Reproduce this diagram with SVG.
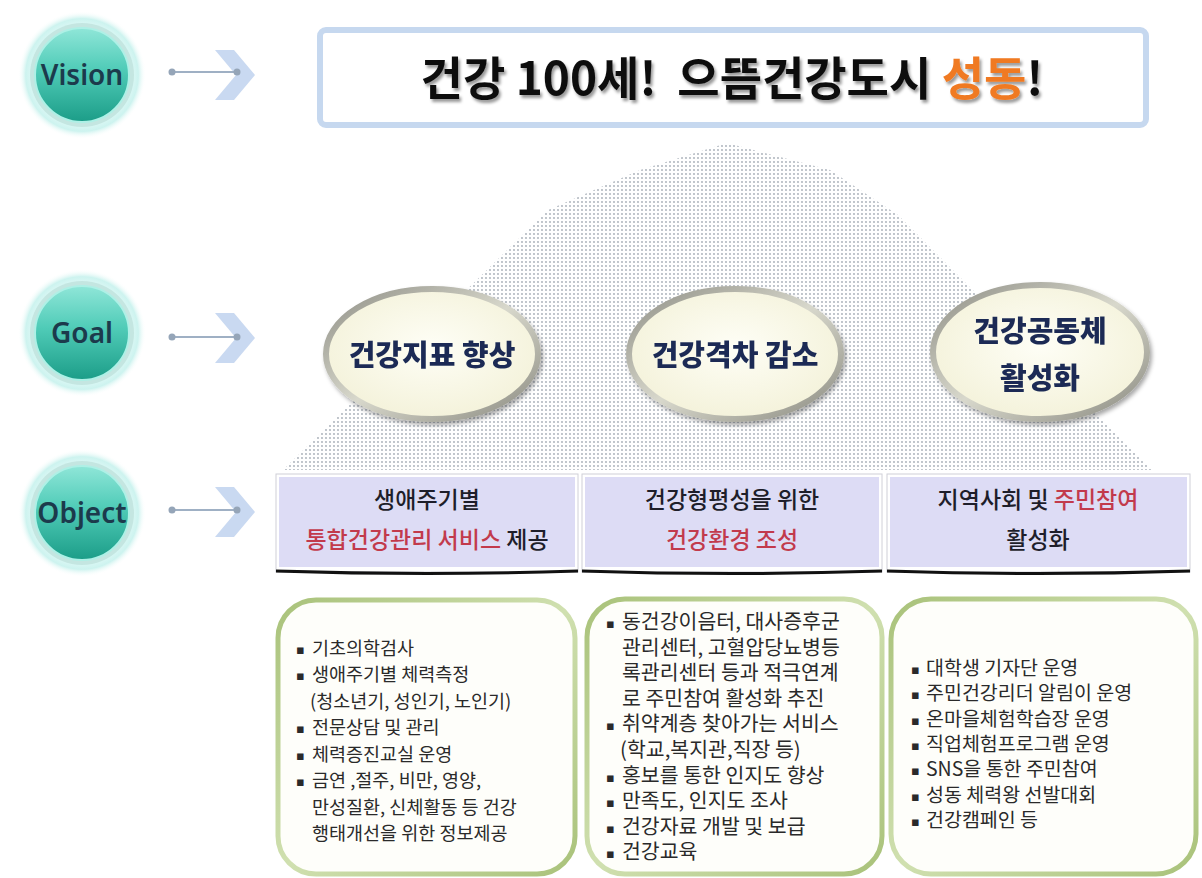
<svg xmlns="http://www.w3.org/2000/svg" width="1202" height="878" viewBox="0 0 1202 878">
<defs>
  <pattern id="dots" width="4" height="4" patternUnits="userSpaceOnUse">
    <circle cx="2" cy="2" r="0.9" fill="#8d96a3"/>
  </pattern>
  <radialGradient id="halo" cx="50%" cy="50%" r="50%">
    <stop offset="70%" stop-color="#e6fbf9"/>
    <stop offset="88%" stop-color="#cdf3ef"/>
    <stop offset="100%" stop-color="#ffffff" stop-opacity="0"/>
  </radialGradient>
  <linearGradient id="teal" x1="0" y1="0" x2="0" y2="1">
    <stop offset="0%" stop-color="#8fe6d8"/>
    <stop offset="45%" stop-color="#4fcbb7"/>
    <stop offset="100%" stop-color="#1c9d88"/>
  </linearGradient>
  <radialGradient id="cream" cx="50%" cy="45%" r="60%">
    <stop offset="0%" stop-color="#fefef6"/>
    <stop offset="100%" stop-color="#f3f1d8"/>
  </radialGradient>
  <linearGradient id="rim" x1="0" y1="0" x2="1" y2="1">
    <stop offset="0%" stop-color="#8f8f86"/>
    <stop offset="50%" stop-color="#d8d8cc"/>
    <stop offset="100%" stop-color="#8a8a80"/>
  </linearGradient>
  <linearGradient id="greenRim" x1="0" y1="0" x2="1" y2="1">
    <stop offset="0%" stop-color="#a9c27a"/>
    <stop offset="50%" stop-color="#d0e0b0"/>
    <stop offset="100%" stop-color="#a9c27a"/>
  </linearGradient>
  <filter id="shadow" x="-10%" y="-10%" width="120%" height="130%">
    <feDropShadow dx="2" dy="3" stdDeviation="2" flood-color="#000" flood-opacity="0.35"/>
  </filter>
  <filter id="tshadow" x="-5%" y="-20%" width="110%" height="150%">
    <feDropShadow dx="2" dy="3" stdDeviation="1.5" flood-color="#000" flood-opacity="0.4"/>
  </filter>
  <style>
    .lbl{font-family:"Noto Sans","Open Sans",sans-serif;font-weight:600;font-size:28px;fill:#1c3a4c;text-anchor:middle}
    .title{font-family:"Noto Sans CJK KR","Noto Sans",sans-serif;font-weight:700;font-size:46px;fill:#111;text-anchor:middle}
    .goal{font-family:"Noto Sans CJK KR",sans-serif;font-weight:900;font-size:29px;fill:#1a2b55;text-anchor:middle}
    .obj{font-family:"Noto Sans CJK KR",sans-serif;font-weight:500;font-size:23px;fill:#1e1e2a;text-anchor:middle}
    .red{fill:#c23a4c}
    .item{font-family:"Noto Sans CJK KR",sans-serif;font-weight:400;fill:#2a2a2a}
    .bul{font-family:"DejaVu Sans",sans-serif;fill:#2a2a2a;font-size:13px}
    .dotline{stroke:#9fb0c4;stroke-width:2}
    .dot{fill:#95a5b8}
    .chev{fill:#c9d9f1}
  </style>
</defs>
<rect width="1202" height="878" fill="#ffffff"/>

<!-- dotted background shape -->
<polygon points="283,470 548,210 640,170 727,143 830,170 898,215 1152,470" fill="url(#dots)" opacity="0.8"/>

<!-- level labels -->
<g id="vision-label">
  <circle cx="82" cy="75" r="64" fill="url(#halo)"/>
  <circle cx="82" cy="75" r="52" fill="#c4e6e1"/>
  <circle cx="82" cy="75" r="47" fill="url(#teal)" stroke="#aef0e6" stroke-width="2"/>
  <text class="lbl" x="82" y="85">Vision</text>
</g>
<g id="goal-label">
  <circle cx="82" cy="333" r="64" fill="url(#halo)"/>
  <circle cx="82" cy="333" r="52" fill="#c4e6e1"/>
  <circle cx="82" cy="333" r="47" fill="url(#teal)" stroke="#aef0e6" stroke-width="2"/>
  <text class="lbl" x="82" y="343">Goal</text>
</g>
<g id="object-label">
  <circle cx="82" cy="513" r="64" fill="url(#halo)"/>
  <circle cx="82" cy="513" r="52" fill="#c4e6e1"/>
  <circle cx="82" cy="513" r="47" fill="url(#teal)" stroke="#aef0e6" stroke-width="2"/>
  <text class="lbl" x="82" y="523">Object</text>
</g>

<!-- connectors -->
<g id="connectors">
  <polygon class="chev" points="215,50 234,50 255,75 234,100 215,100 236,75"/>
  <line class="dotline" x1="172" y1="72" x2="237" y2="72"/>
  <circle class="dot" cx="172" cy="72" r="3.5"/>
  <circle class="dot" cx="237" cy="72" r="3.5"/>
  <polygon class="chev" points="215,313 234,313 255,338 234,363 215,363 236,338"/>
  <line class="dotline" x1="172" y1="337" x2="237" y2="337"/>
  <circle class="dot" cx="172" cy="337" r="3.5"/>
  <circle class="dot" cx="237" cy="337" r="3.5"/>
  <polygon class="chev" points="215,487 234,487 255,512 234,537 215,537 236,512"/>
  <line class="dotline" x1="172" y1="510" x2="237" y2="510"/>
  <circle class="dot" cx="172" cy="510" r="3.5"/>
  <circle class="dot" cx="237" cy="510" r="3.5"/>
</g>

<!-- vision box -->
<g id="vision">
  <rect x="320" y="30" width="826" height="95" rx="6" fill="#ffffff" stroke="#c6d8ef" stroke-width="6"/>
  <text class="title" x="732" y="95" filter="url(#tshadow)" xml:space="preserve">건강 100세!  으뜸건강도시 <tspan fill="#f07a22">성동</tspan>!</text>
</g>

<!-- goals -->
<g id="goal1" filter="url(#shadow)">
  <ellipse cx="432" cy="354" rx="106" ry="65" fill="url(#cream)" stroke="url(#rim)" stroke-width="6"/>
  <text class="goal" x="432" y="366">건강지표 향상</text>
</g>
<g id="goal2" filter="url(#shadow)">
  <ellipse cx="735" cy="354" rx="106" ry="65" fill="url(#cream)" stroke="url(#rim)" stroke-width="6"/>
  <text class="goal" x="735" y="366">건강격차 감소</text>
</g>
<g id="goal3" filter="url(#shadow)">
  <ellipse cx="1040" cy="352" rx="107" ry="67" fill="url(#cream)" stroke="url(#rim)" stroke-width="6"/>
  <text class="goal" x="1040" y="342">건강공동체</text>
  <text class="goal" x="1040" y="389">활성화</text>
</g>

<!-- objects -->
<g id="object1">
  <rect x="276" y="474" width="302" height="98" fill="#ffffff" stroke="#d0d0d8" stroke-width="1"/>
  <rect x="279" y="477" width="296" height="90" fill="#dddcf5"/>
  <path d="M276,571 Q427,576 578,571" fill="none" stroke="#111" stroke-width="3"/>
  <text class="obj" x="427" y="508">생애주기별</text>
  <text class="obj" x="427" y="548"><tspan class="red">통합건강관리 서비스</tspan> 제공</text>
</g>
<g id="object2">
  <rect x="582" y="474" width="300" height="98" fill="#ffffff" stroke="#d0d0d8" stroke-width="1"/>
  <rect x="585" y="477" width="294" height="90" fill="#dddcf5"/>
  <path d="M582,571 Q732,576 882,571" fill="none" stroke="#111" stroke-width="3"/>
  <text class="obj" x="732" y="508">건강형평성을 위한</text>
  <text class="obj red" x="732" y="548">건강환경 조성</text>
</g>
<g id="object3">
  <rect x="887" y="474" width="303" height="98" fill="#ffffff" stroke="#d0d0d8" stroke-width="1"/>
  <rect x="890" y="477" width="297" height="90" fill="#dddcf5"/>
  <path d="M887,571 Q1038,576 1190,571" fill="none" stroke="#111" stroke-width="3"/>
  <text class="obj" x="1038" y="508">지역사회 및 <tspan class="red">주민참여</tspan></text>
  <text class="obj" x="1038" y="548">활성화</text>
</g>

<!-- detail boxes -->
<g id="detail1">
  <rect x="278" y="600" width="297" height="274" rx="38" fill="#fefefa" stroke="url(#greenRim)" stroke-width="5"/>
  <g class="bul">
    <text x="296" y="654">▪</text>
    <text x="296" y="680">▪</text>
    <text x="296" y="733">▪</text>
    <text x="296" y="760">▪</text>
    <text x="296" y="786">▪</text>
  </g>
  <g class="item" font-size="18.5">
    <text x="312" y="655">기초의학검사</text>
    <text x="312" y="681">생애주기별 체력측정</text>
    <text x="310" y="708">(청소년기, 성인기, 노인기)</text>
    <text x="312" y="734">전문상담 및 관리</text>
    <text x="312" y="761">체력증진교실 운영</text>
    <text x="312" y="787">금연 ,절주, 비만, 영양,</text>
    <text x="312" y="814">만성질환, 신체활동 등 건강</text>
    <text x="312" y="840">행태개선을 위한 정보제공</text>
  </g>
</g>
<g id="detail2">
  <rect x="587" y="599" width="295" height="275" rx="38" fill="#fefefa" stroke="url(#greenRim)" stroke-width="5"/>
  <g class="bul">
    <text x="606" y="628">▪</text>
    <text x="606" y="730">▪</text>
    <text x="606" y="782">▪</text>
    <text x="606" y="807">▪</text>
    <text x="606" y="833">▪</text>
    <text x="606" y="858">▪</text>
  </g>
  <g class="item" font-size="20.5">
    <text x="622" y="629">동건강이음터, 대사증후군</text>
    <text x="622" y="655">관리센터, 고혈압당뇨병등</text>
    <text x="622" y="680">록관리센터 등과 적극연계</text>
    <text x="622" y="706">로 주민참여 활성화 추진</text>
    <text x="622" y="731">취약계층 찾아가는 서비스</text>
    <text x="620" y="757">(학교,복지관,직장 등)</text>
    <text x="622" y="783">홍보를 통한 인지도 향상</text>
    <text x="622" y="808">만족도, 인지도 조사</text>
    <text x="622" y="834">건강자료 개발 및 보급</text>
    <text x="622" y="859">건강교육</text>
  </g>
</g>
<g id="detail3">
  <rect x="891" y="599" width="305" height="275" rx="40" fill="#fefefa" stroke="url(#greenRim)" stroke-width="5"/>
  <g class="bul">
    <text x="911" y="674">▪</text>
    <text x="911" y="699">▪</text>
    <text x="911" y="725">▪</text>
    <text x="911" y="750">▪</text>
    <text x="911" y="775">▪</text>
    <text x="911" y="801">▪</text>
    <text x="911" y="826">▪</text>
  </g>
  <g class="item" font-size="19.5">
    <text x="926" y="675">대학생 기자단 운영</text>
    <text x="926" y="700">주민건강리더 알림이 운영</text>
    <text x="926" y="726">온마을체험학습장 운영</text>
    <text x="926" y="751">직업체험프로그램 운영</text>
    <text x="926" y="776">SNS을 통한 주민참여</text>
    <text x="926" y="802">성동 체력왕 선발대회</text>
    <text x="926" y="827">건강캠페인 등</text>
  </g>
</g>
</svg>
